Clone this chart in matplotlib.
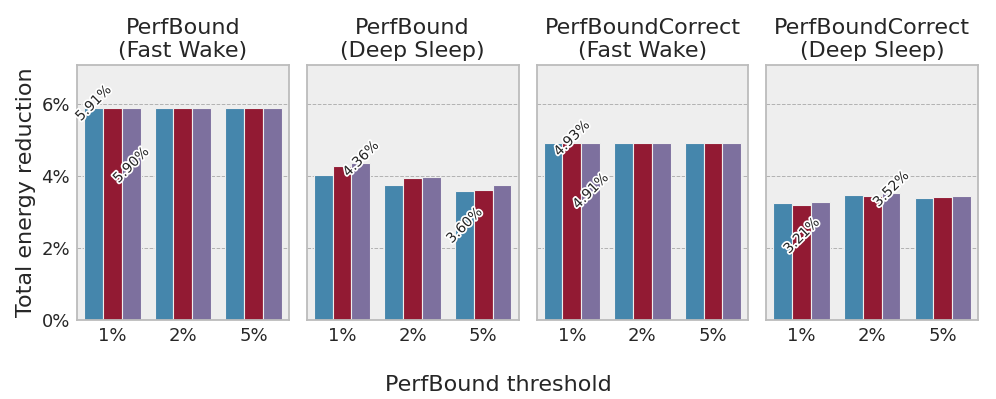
import matplotlib
matplotlib.use('Agg')
import matplotlib.pyplot as plt
import matplotlib.patheffects as pe
import numpy as np
import seaborn as sns

thresholds = ['1%', '2%', '5%']
titles = ['PerfBound\n(Fast Wake)', 'PerfBound\n(Deep Sleep)',
          'PerfBoundCorrect\n(Fast Wake)', 'PerfBoundCorrect\n(Deep Sleep)']

# three series per panel, one value per threshold (in %)
fast_pb = [[5.91, 5.91, 5.91], [5.91, 5.91, 5.91], [5.90, 5.90, 5.90]]
deep_pb = [[4.04, 3.76, 3.60], [4.27, 3.96, 3.61], [4.36, 3.99, 3.75]]
fast_pbc = [[4.92, 4.92, 4.92], [4.93, 4.93, 4.93], [4.91, 4.91, 4.91]]
deep_pbc = [[3.26, 3.48, 3.38], [3.21, 3.46, 3.43], [3.29, 3.52, 3.45]]
panels = [fast_pb, deep_pb, fast_pbc, deep_pbc]

base_colors = ['#348ABD', '#A60628', '#7A68A6']
colors = [sns.desaturate(c, 0.75) for c in base_colors]

plt.rcParams['font.family'] = ['DejaVu Sans']
fig, axes = plt.subplots(1, 4, figsize=(9.96, 3.99), dpi=100, sharey=True)
fig.subplots_adjust(left=0.0773, right=0.982, bottom=0.198, top=0.837, wspace=0.085)

ymax = max(max(max(s) for s in p) for p in panels) * 1.2
x = np.arange(len(thresholds))
width = 0.8 / 3
stroke = [pe.withStroke(linewidth=2.5, foreground='white')]

for ax, title, data in zip(axes, titles, panels):
    ax.set_facecolor('#eeeeee')
    ax.set_axisbelow(True)
    ax.yaxis.grid(True, linestyle='--', color='#b2b2b2', linewidth=0.7)
    for spine in ax.spines.values():
        spine.set_color('#bcbcbc')
        spine.set_linewidth(1.3)
    for i, series in enumerate(data):
        ax.bar(x + (i - 1) * width, series, width, color=colors[i],
               edgecolor='#eeeeee', linewidth=0.8)
    arr = np.array(data)
    imax = np.unravel_index(np.argmax(arr), arr.shape)
    imin = np.unravel_index(np.argmin(arr), arr.shape)
    vmax, vmin = arr[imax], arr[imin]
    ax.text(x[imax[1]] + (imax[0] - 1) * width, vmax + 0.12, f'{vmax:.2f}%',
            rotation=45, ha='center', va='center', fontsize=10,
            color='#262626', path_effects=stroke)
    ax.text(x[imin[1]] + (imin[0] - 1) * width, vmin * 0.73, f'{vmin:.2f}%',
            rotation=45, ha='center', va='center', fontsize=10,
            color='#262626', path_effects=stroke)
    ax.set_title(title, fontsize=16, color='#262626', pad=6)
    ax.set_xticks(x)
    ax.set_xticklabels(thresholds)
    ax.set_xlim(-0.5, 2.5)
    ax.tick_params(axis='both', length=0, labelsize=13, colors='#262626', pad=5)

axes[0].set_ylim(0, ymax)
axes[0].set_yticks([0, 2, 4, 6])
axes[0].set_yticklabels(['0%', '2%', '4%', '6%'])
axes[0].set_ylabel('Total energy reduction', fontsize=16, color='#262626')
fig.supxlabel('PerfBound threshold', fontsize=16, color='#262626', y=0.01)

fig.savefig('out.png', dpi=100)
